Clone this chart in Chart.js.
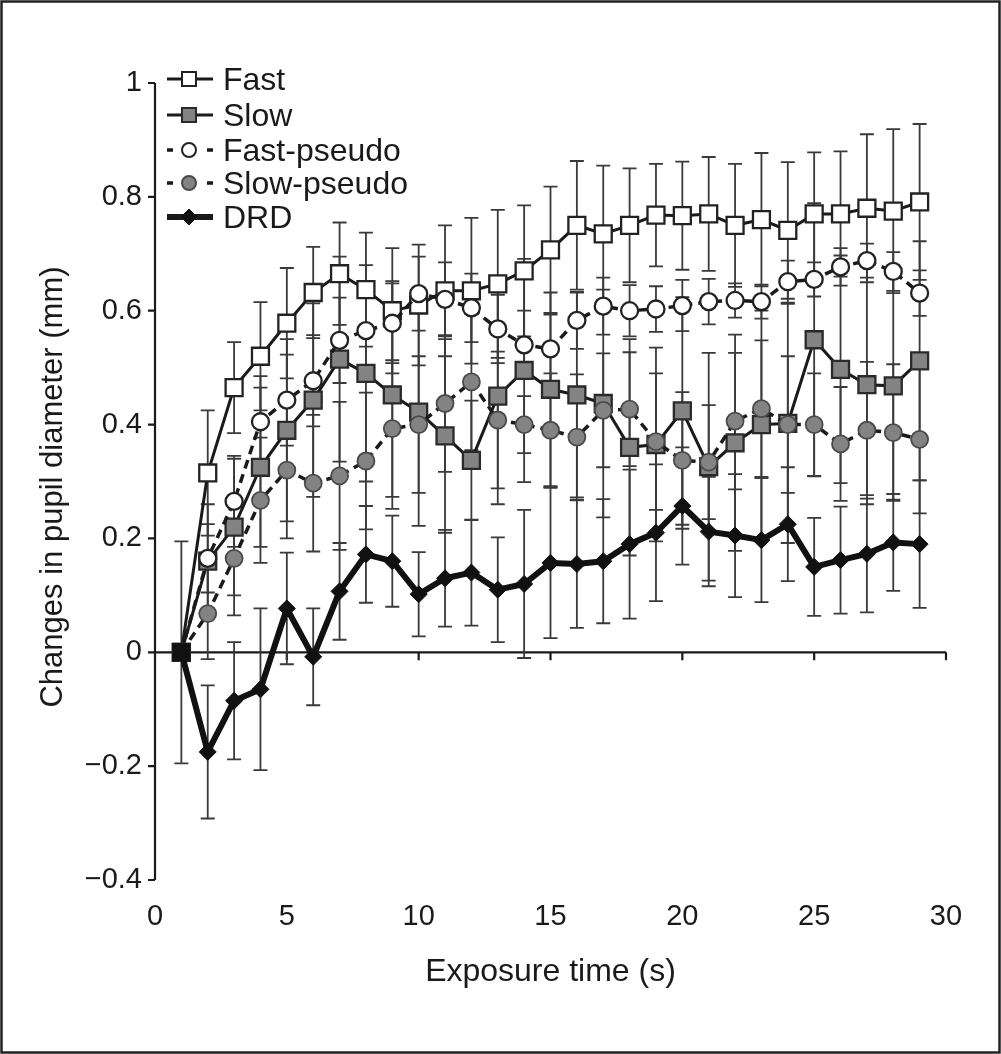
<!DOCTYPE html>
<html>
<head>
<meta charset="utf-8">
<script src="https://cdn.jsdelivr.net/npm/chart.js@4.4.1/dist/chart.umd.min.js"></script>
<style>
html,body{margin:0;padding:0;background:#fff;}
#wrap{width:1001px;height:1054px;position:relative;}
</style>
</head>
<body>
<div id="wrap"><canvas id="c"></canvas></div>
<script>
// ---- data ----
const times = [1,2,3,4,5,6,7,8,9,10,11,12,13,14,15,16,17,18,19,20,21,22,23,24,25,26,27,28,29];
const xTickValues = [0,5,10,15,20,25,30];
const yTickValues = [-0.4,-0.2,0,0.2,0.4,0.6,0.8,1];

const fast = [0,0.315,0.465,0.52,0.578,0.632,0.665,0.637,0.60,0.61,0.635,0.635,0.647,0.67,0.707,0.75,0.735,0.75,0.768,0.767,0.77,0.75,0.76,0.741,0.77,0.77,0.78,0.775,0.791];
const fastErr = [0,0.11,0.08,0.095,0.097,0.08,0.09,0.10,0.11,0.106,0.115,0.128,0.13,0.115,0.111,0.113,0.12,0.10,0.09,0.095,0.10,0.108,0.117,0.12,0.108,0.11,0.13,0.144,0.137];

const slow = [0,0.16,0.22,0.325,0.39,0.443,0.515,0.49,0.452,0.422,0.38,0.337,0.45,0.495,0.462,0.452,0.437,0.36,0.365,0.424,0.326,0.368,0.40,0.402,0.549,0.497,0.47,0.468,0.512];
const slowErr = [0,0.10,0.12,0.14,0.16,0.17,0.18,0.19,0.20,0.20,0.17,0.105,0.19,0.196,0.17,0.18,0.20,0.19,0.17,0.20,0.20,0.19,0.20,0.21,0.24,0.20,0.21,0.20,0.21];

const fastPseudo = [0,0.165,0.265,0.405,0.443,0.477,0.548,0.565,0.578,0.63,0.62,0.605,0.568,0.54,0.533,0.583,0.608,0.60,0.603,0.609,0.616,0.618,0.616,0.651,0.655,0.677,0.688,0.669,0.631];
const fastPseudoErr = [0,0.06,0.08,0.08,0.08,0.08,0.075,0.07,0.07,0.065,0.065,0.06,0.06,0.06,0.06,0.05,0.05,0.045,0.04,0.045,0.04,0.03,0.03,0.037,0.03,0.033,0.03,0.034,0.04];

const slowPseudo = [0,0.068,0.165,0.267,0.32,0.297,0.31,0.336,0.393,0.40,0.437,0.475,0.408,0.40,0.39,0.378,0.425,0.427,0.37,0.337,0.334,0.406,0.428,0.40,0.40,0.366,0.39,0.386,0.374];
const slowPseudoErr = [0,0.08,0.10,0.11,0.12,0.12,0.13,0.12,0.12,0.12,0.12,0.12,0.12,0.05,0.10,0.11,0.10,0.10,0.12,0.12,0.10,0.12,0.12,0.12,0.09,0.10,0.12,0.12,0.13];

const drd = [0,-0.175,-0.085,-0.065,0.077,-0.008,0.107,0.172,0.16,0.102,0.13,0.14,0.11,0.12,0.157,0.155,0.16,0.19,0.21,0.257,0.212,0.205,0.197,0.225,0.15,0.162,0.173,0.193,0.19];
const drdErr = [0.195,0.117,0.103,0.142,0.098,0.085,0.085,0.085,0.08,0.074,0.085,0.093,0.092,0.13,0.132,0.112,0.109,0.131,0.12,0.103,0.096,0.108,0.109,0.10,0.086,0.094,0.103,0.085,0.112];

const seriesNames = ['Fast','Slow','Fast-pseudo','Slow-pseudo','DRD'];
const xTitle = 'Exposure time (s)';
const yTitle = 'Changes in pupil diameter (mm)';

// ---- styling ----
const FONT = "'Liberation Sans', Arial, Helvetica, sans-serif";
const INK = '#1a1a1a';
const GRAY = '#838383';

function pts(vals){ return times.map((t,i)=>({x:t,y:vals[i]})); }

const datasets = [
  {label:seriesNames[0], data:pts(fast), errors:fastErr, order:4,
   borderColor:INK, borderWidth:3, pointStyle:'rect', pointRadius:12,
   pointBackgroundColor:'#fff', pointBorderColor:'#222', pointBorderWidth:2.3},
  {label:seriesNames[1], data:pts(slow), errors:slowErr, order:3,
   borderColor:INK, borderWidth:3, pointStyle:'rect', pointRadius:12,
   pointBackgroundColor:GRAY, pointBorderColor:'#2a2a2a', pointBorderWidth:2.3},
  {label:seriesNames[2], data:pts(fastPseudo), errors:fastPseudoErr, order:2,
   borderColor:INK, borderWidth:3.5, borderDash:[9,6], pointStyle:'circle', pointRadius:8.5,
   pointBackgroundColor:'#fff', pointBorderColor:'#222', pointBorderWidth:2.3},
  {label:seriesNames[3], data:pts(slowPseudo), errors:slowPseudoErr, order:1,
   borderColor:INK, borderWidth:3.5, borderDash:[9,6], pointStyle:'circle', pointRadius:8.5,
   pointBackgroundColor:GRAY, pointBorderColor:'#4a4a4a', pointBorderWidth:1.8},
  {label:seriesNames[4], data:pts(drd), errors:drdErr, order:0,
   borderColor:'#111', borderWidth:6, borderJoinStyle:'round',
   pointStyle:times.map((t,i)=> i===0 ? 'rect' : 'rectRot'),
   pointRadius:times.map((t,i)=> i===0 ? 12 : 8.5),
   pointBackgroundColor:'#111', pointBorderColor:'#111', pointBorderWidth:1}
];

function drawMarker(ctx, style, x, y, size, fill, stroke, lw){
  ctx.save();
  ctx.setLineDash([]);
  ctx.beginPath();
  if (style==='rect') ctx.rect(x-size/2, y-size/2, size, size);
  else if (style==='circle') ctx.arc(x, y, size/2, 0, Math.PI*2);
  else { const r=size/2; ctx.moveTo(x-r,y); ctx.lineTo(x,y-r); ctx.lineTo(x+r,y); ctx.lineTo(x,y+r); ctx.closePath(); }
  ctx.fillStyle=fill; ctx.fill();
  ctx.lineWidth=lw; ctx.strokeStyle=stroke; ctx.stroke();
  ctx.restore();
}

const figurePlugin = {
  id:'figure',
  beforeDraw(chart){
    const ctx=chart.ctx;
    ctx.save();
    ctx.fillStyle='#fff';
    ctx.fillRect(0,0,chart.width,chart.height);
    ctx.lineWidth=2.5; ctx.strokeStyle='#222';
    ctx.strokeRect(1.5,1.5,chart.width-3,chart.height-3);
    ctx.restore();
  },
  beforeDatasetsDraw(chart){
    const ctx=chart.ctx, xs=chart.scales.x, ys=chart.scales.y;
    ctx.save();
    // axes
    ctx.strokeStyle=INK; ctx.lineWidth=2.2;
    const x0=xs.getPixelForValue(0), y0=ys.getPixelForValue(0);
    ctx.beginPath();
    ctx.moveTo(x0, ys.getPixelForValue(1)); ctx.lineTo(x0, ys.getPixelForValue(-0.4));
    yTickValues.forEach(v=>{ const p=ys.getPixelForValue(v); ctx.moveTo(x0-7,p); ctx.lineTo(x0,p); });
    ctx.moveTo(x0, y0); ctx.lineTo(xs.getPixelForValue(30), y0);
    xTickValues.forEach(v=>{ const p=xs.getPixelForValue(v); ctx.moveTo(p,y0); ctx.lineTo(p,y0+8); });
    ctx.stroke();
    // error bars
    ctx.strokeStyle='#3a3a3a'; ctx.lineWidth=1.8;
    chart.data.datasets.forEach(ds=>{
      ds.data.forEach((pt,i)=>{
        const e=ds.errors[i]; if(!e) return;
        const px=xs.getPixelForValue(pt.x);
        const a=ys.getPixelForValue(pt.y+e), b=ys.getPixelForValue(pt.y-e);
        ctx.beginPath();
        ctx.moveTo(px,a); ctx.lineTo(px,b);
        ctx.moveTo(px-7,a); ctx.lineTo(px+7,a);
        ctx.moveTo(px-7,b); ctx.lineTo(px+7,b);
        ctx.stroke();
      });
    });
    ctx.restore();
  },
  afterDraw(chart){
    const ctx=chart.ctx;
    ctx.save();
    ctx.fillStyle=INK;
    // axis titles
    ctx.font='32px '+FONT;
    ctx.textAlign='center'; ctx.textBaseline='alphabetic';
    ctx.fillText(xTitle, chart.scales.x.getPixelForValue(15), 981);
    ctx.save();
    ctx.font='31px '+FONT;
    ctx.translate(62, 487); ctx.rotate(-Math.PI/2);
    ctx.fillText(yTitle, 0, 0);
    ctx.restore();
    // legend
    const rows=[79,115,150,183,217];
    const lx1=167, lx2=213, mx=189, tx=223;
    ctx.font='32px '+FONT; ctx.textAlign='left';
    chart.data.datasets.forEach((ds,i)=>{
      const y=rows[i];
      ctx.strokeStyle=INK; ctx.lineCap='butt';
      ctx.lineWidth = ds.borderWidth;
      ctx.beginPath();
      if (ds.borderDash){
        ctx.moveTo(lx1,y); ctx.lineTo(lx1+6,y);
        ctx.moveTo(lx2-6,y); ctx.lineTo(lx2,y);
      } else { ctx.moveTo(lx1,y); ctx.lineTo(lx2,y); }
      ctx.stroke();
      const style = Array.isArray(ds.pointStyle) ? ds.pointStyle[1] : ds.pointStyle;
      const size = style==='rect' ? 14 : (style==='circle' ? 14 : 16);
      drawMarker(ctx, style, mx, y, size, ds.pointBackgroundColor, ds.pointBorderColor, style==='rectRot'?1:2);
      ctx.fillStyle=INK;
      ctx.fillText(ds.label, tx, y+11);
    });
    ctx.restore();
  }
};

new Chart(document.getElementById('c'), {
  type:'line',
  data:{datasets},
  options:{
    responsive:true, maintainAspectRatio:false, animation:false,
    layout:{padding:{top:83,right:55,left:0,bottom:0}},
    elements:{line:{tension:0, fill:false}},
    plugins:{legend:{display:false}, tooltip:{enabled:false}},
    scales:{
      x:{type:'linear', min:0, max:30,
         afterBuildTicks:s=>{ s.ticks = xTickValues.map(v=>({value:v})); },
         afterFit:s=>{ s.height = 174; },
         grid:{display:false, drawTicks:false}, border:{display:false},
         ticks:{padding:20, color:INK, font:{family:FONT, size:29}, maxRotation:0,
                callback:v=>String(v)}},
      y:{type:'linear', min:-0.4, max:1,
         afterBuildTicks:s=>{ s.ticks = yTickValues.map(v=>({value:v})); },
         afterFit:s=>{ s.width = 155; },
         grid:{display:false, drawTicks:false}, border:{display:false},
         ticks:{padding:13, color:INK, font:{family:FONT, size:29},
                callback:v=> v<0 ? '\u2212'+String(Math.round(-v*10)/10) : String(Math.round(v*10)/10)}}
    }
  },
  plugins:[figurePlugin]
});
</script>
</body>
</html>
